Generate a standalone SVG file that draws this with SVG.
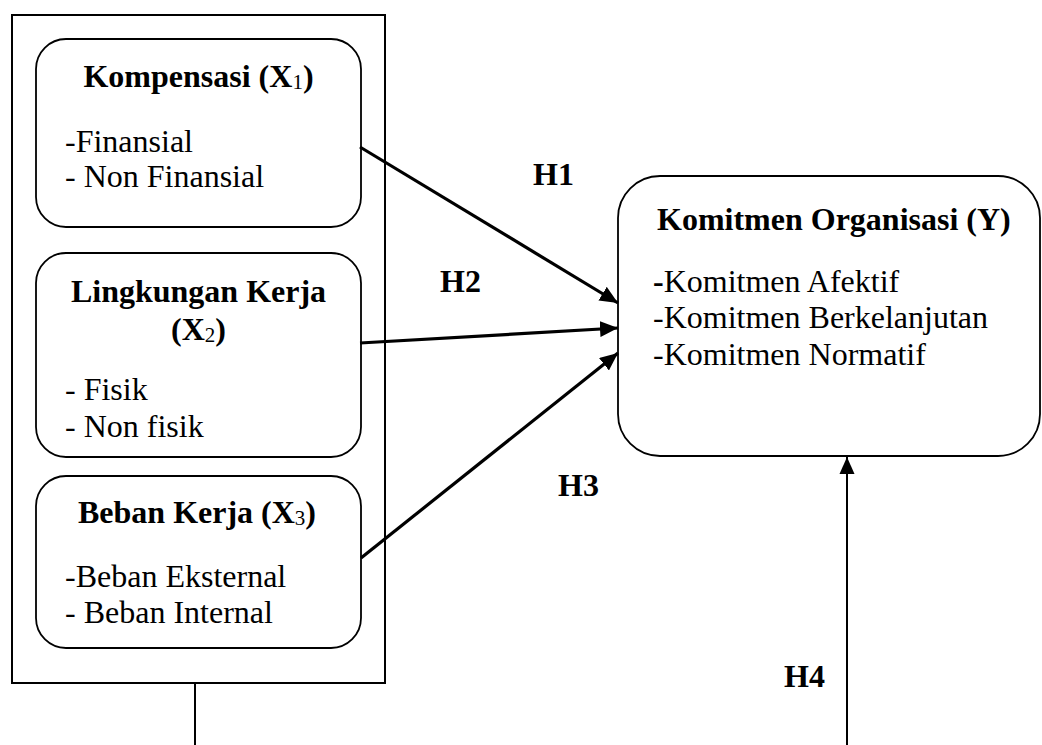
<svg xmlns="http://www.w3.org/2000/svg" width="1042" height="745" viewBox="0 0 1042 745">
<style>
text{font-family:"Liberation Serif","Times New Roman",serif;font-size:32px;fill:#000}
.b{font-weight:bold}
.c{text-anchor:middle}
.sub{font-size:21px;font-weight:normal}
.box{fill:#fff;stroke:#000;stroke-width:1.8}
.frame{fill:none;stroke:#000;stroke-width:2}
.arr{stroke:#000;stroke-width:3.2;fill:none}
.line{stroke:#000;stroke-width:2;fill:none}
</style>
<defs>
<marker id="ah" markerUnits="userSpaceOnUse" markerWidth="20" markerHeight="16" refX="18" refY="8" orient="auto">
<path d="M0,0 L18,8 L0,16 Z" fill="#000"/>
</marker>
<marker id="ah2" markerUnits="userSpaceOnUse" markerWidth="18" markerHeight="16" refX="17" refY="8" orient="auto">
<path d="M0,0.5 L17,8 L0,15.5 Z" fill="#000"/>
</marker>
</defs>
<rect width="1042" height="745" fill="#fff"/>
<g id="frame">
<rect class="frame" x="12" y="15" width="373" height="668"/>
</g>
<g id="x1">
<rect class="box" x="36" y="39" width="325" height="188" rx="30" ry="30"/>
<text class="b c" x="198.5" y="87">Kompensasi (X<tspan class="sub" dy="2">1</tspan><tspan dy="-2">)</tspan></text>
<text x="65" y="152">-Finansial</text>
<text x="65" y="187">- Non Finansial</text>
</g>
<g id="x2">
<rect class="box" x="36" y="253" width="325" height="204" rx="30" ry="30"/>
<text class="b c" x="198.5" y="302">Lingkungan Kerja</text>
<text class="b c" x="198.5" y="340">(X<tspan class="sub" dy="2">2</tspan><tspan dy="-2">)</tspan></text>
<text x="65" y="400">- Fisik</text>
<text x="65" y="437">- Non fisik</text>
</g>
<g id="x3">
<rect class="box" x="36" y="476" width="325" height="172" rx="30" ry="30"/>
<text class="b c" x="197" y="523">Beban Kerja (X<tspan class="sub" dy="2">3</tspan><tspan dy="-2">)</tspan></text>
<text x="65" y="587">-Beban Eksternal</text>
<text x="65" y="623">- Beban Internal</text>
</g>
<g id="y">
<rect class="box" x="618" y="176" width="422" height="280" rx="42" ry="42"/>
<text class="b" x="657" y="230">Komitmen Organisasi (Y)</text>
<text x="653" y="292"><tspan class="b">-</tspan>Komitmen Afektif</text>
<text x="653" y="328">-Komitmen Berkelanjutan</text>
<text x="653" y="365">-Komitmen Normatif</text>
</g>
<g id="connectors">
<line class="arr" x1="360" y1="147" x2="618" y2="303" marker-end="url(#ah)"/>
<line class="arr" x1="360" y1="343" x2="618" y2="328" marker-end="url(#ah)"/>
<line class="arr" x1="361" y1="558" x2="618" y2="353" marker-end="url(#ah)"/>
<line class="line" x1="195" y1="683" x2="195" y2="745"/>
<line class="line" x1="847" y1="745" x2="847" y2="457" marker-end="url(#ah2)"/>
</g>
<g id="labels">
<text class="b" x="533" y="185">H1</text>
<text class="b" x="440" y="292">H2</text>
<text class="b" x="558" y="496">H3</text>
<text class="b" x="784" y="687">H4</text>
</g>
</svg>
